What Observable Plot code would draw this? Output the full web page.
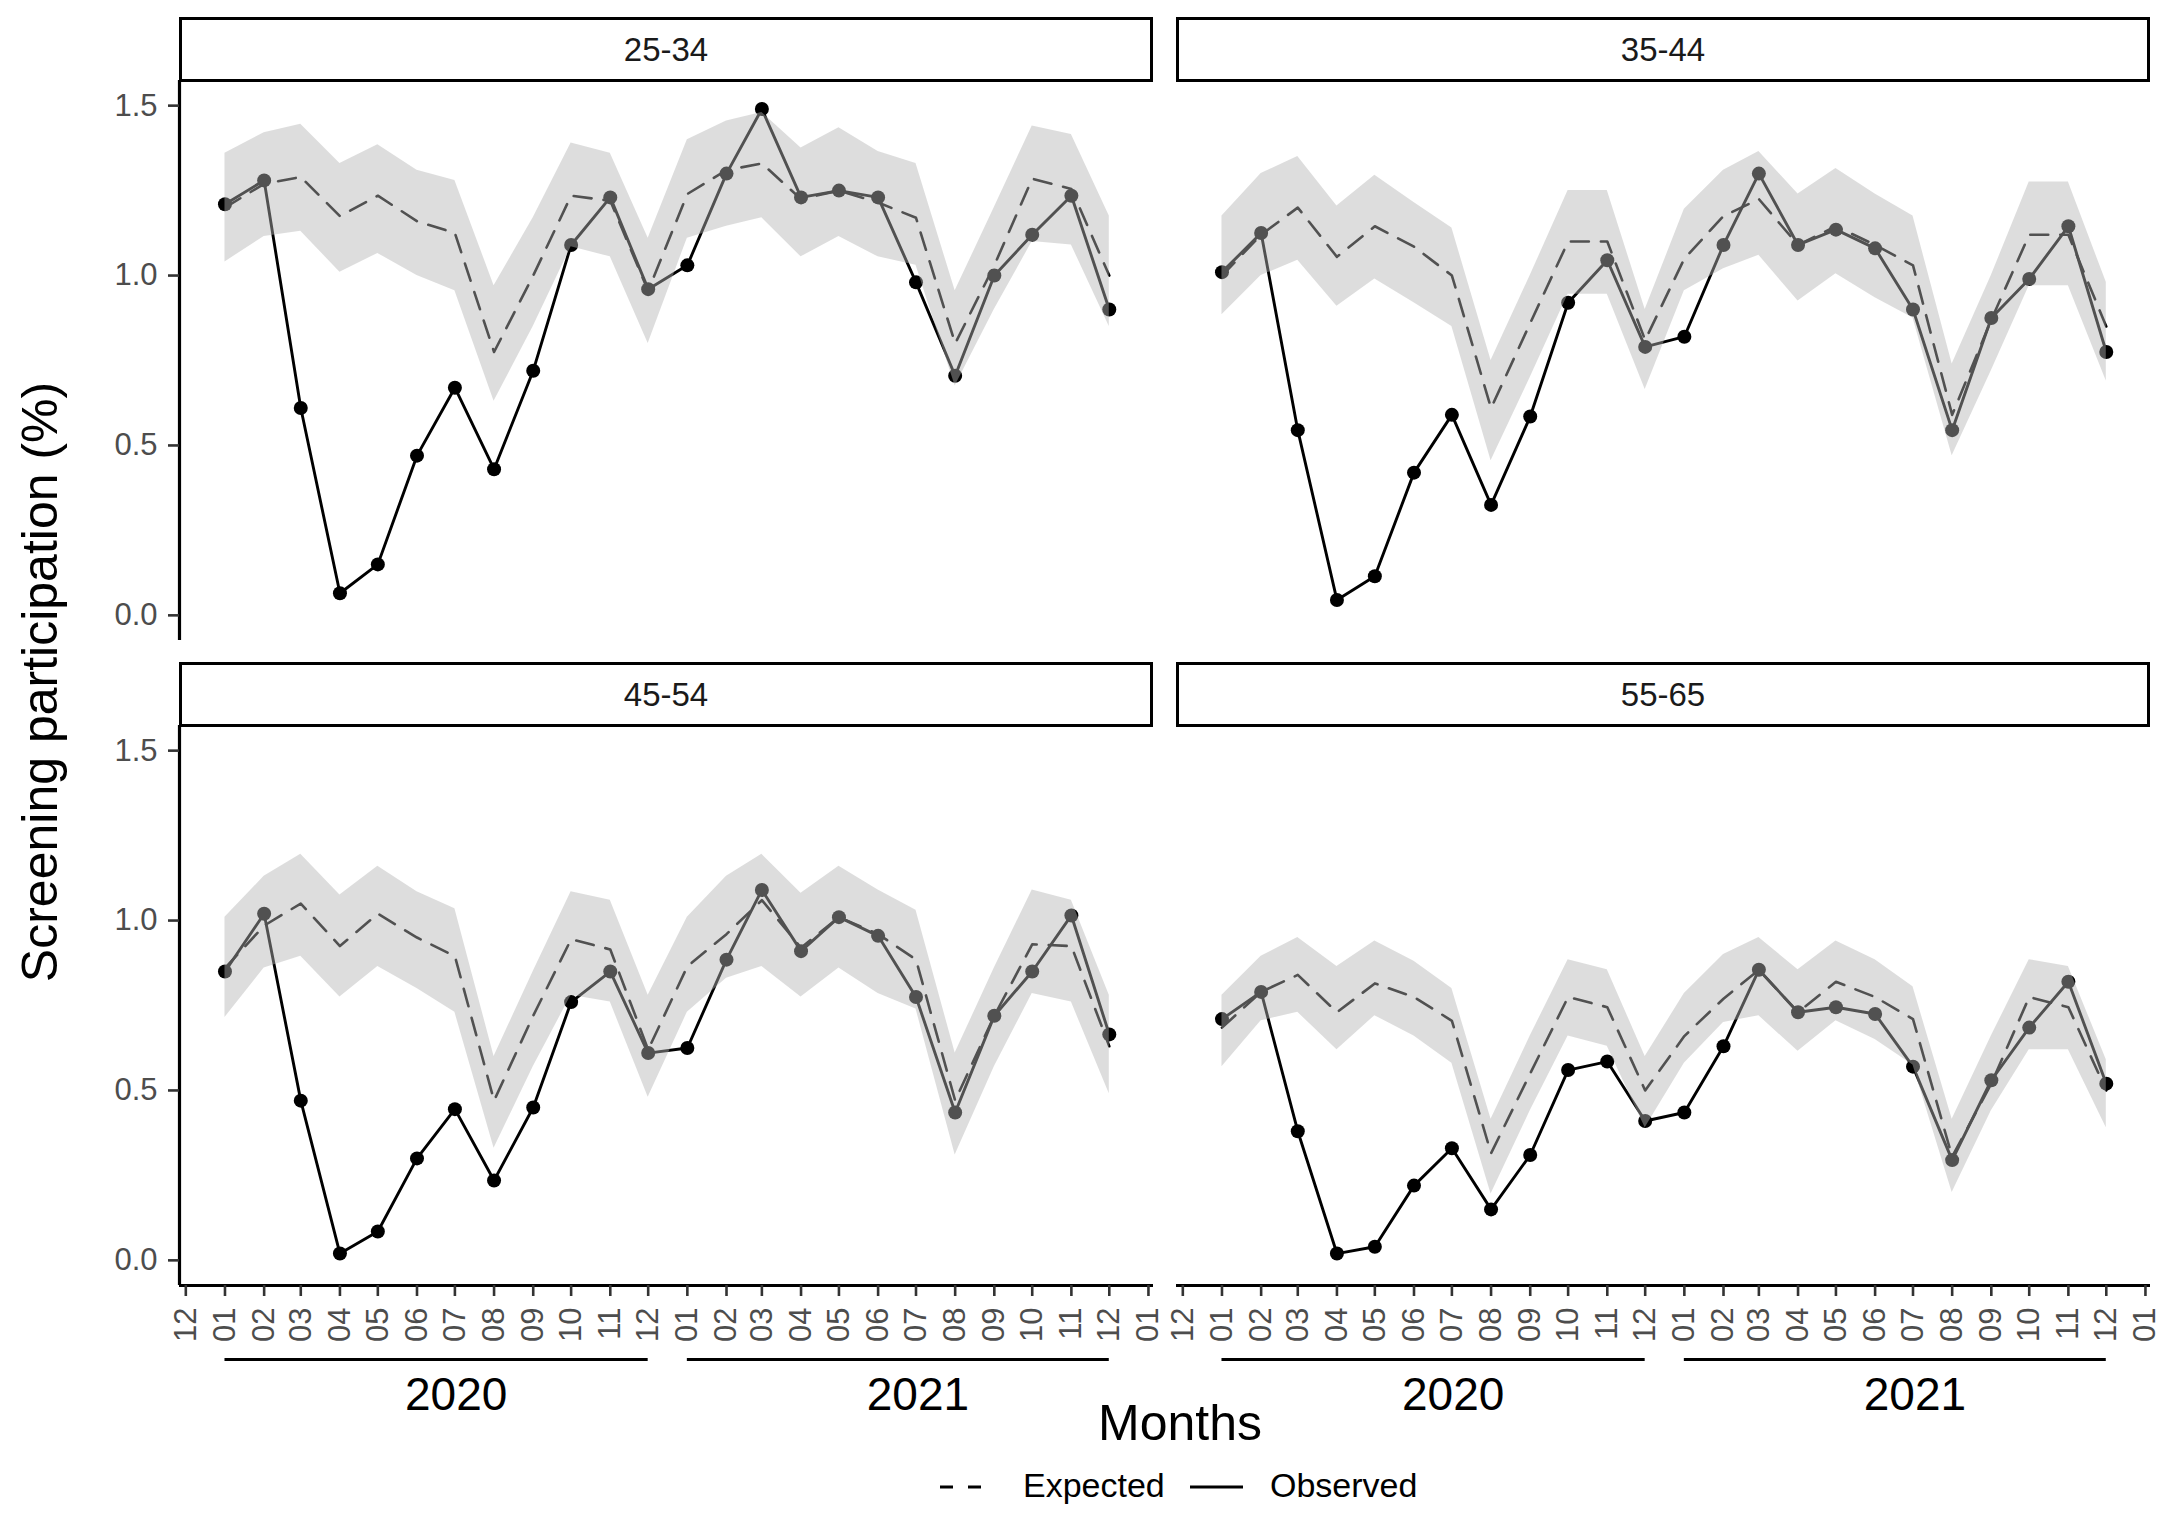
<!DOCTYPE html>
<html><head><meta charset="utf-8">
<script src="https://cdn.jsdelivr.net/npm/d3@7"></script>
<script src="https://cdn.jsdelivr.net/npm/@observablehq/plot@0.6"></script>
<style>
html,body{margin:0;padding:0;background:#fff;}
#chart{position:relative;width:2165px;height:1521px;background:#fff;font-family:"Liberation Sans",Arial,sans-serif;overflow:hidden;}
.strip{position:absolute;box-sizing:border-box;border:3px solid #000;background:#fff;display:flex;align-items:center;justify-content:center;font-size:33px;color:#1a1a1a;}
.abs{position:absolute;white-space:nowrap;line-height:1;}
#chart svg.panel{position:absolute;}
</style></head><body><div id="chart"></div>
<script>
// ---- data ----
const months = ["2020-01","2020-02","2020-03","2020-04","2020-05","2020-06","2020-07","2020-08","2020-09","2020-10","2020-11","2020-12",
                "2021-01","2021-02","2021-03","2021-04","2021-05","2021-06","2021-07","2021-08","2021-09","2021-10","2021-11","2021-12"];
const tickMonths = ["2019-12","2020-01","2020-02","2020-03","2020-04","2020-05","2020-06","2020-07","2020-08","2020-09","2020-10","2020-11","2020-12",
                    "2021-01","2021-02","2021-03","2021-04","2021-05","2021-06","2021-07","2021-08","2021-09","2021-10","2021-11","2021-12","2022-01"];
const yTicks = [0, 0.5, 1.0, 1.5];
const years = ["2020", "2021"];
const ageGroups = ["25-34", "35-44", "45-54", "55-65"];

const observed_25_34 = [1.21,1.28,0.61,0.065,0.15,0.47,0.67,0.43,0.72,1.09,1.23,0.96,1.03,1.30,1.49,1.23,1.25,1.23,0.98,0.705,1.00,1.12,1.235,0.90];
const expected_25_34 = [1.20,1.27,1.29,1.175,1.235,1.16,1.125,0.775,1.00,1.235,1.22,0.955,1.24,1.31,1.33,1.225,1.25,1.215,1.17,0.80,1.03,1.285,1.255,1.00];
const upper_25_34    = [1.36,1.42,1.445,1.33,1.385,1.31,1.28,0.97,1.17,1.39,1.36,1.11,1.40,1.455,1.48,1.375,1.435,1.365,1.33,0.955,1.20,1.44,1.415,1.175];
const lower_25_34    = [1.04,1.115,1.13,1.01,1.065,1.00,0.955,0.63,0.85,1.085,1.055,0.80,1.11,1.145,1.17,1.055,1.115,1.055,1.03,0.675,0.90,1.10,1.09,0.85];

const observed_35_44 = [1.01,1.125,0.545,0.045,0.115,0.42,0.59,0.325,0.585,0.92,1.045,0.79,0.82,1.09,1.30,1.09,1.135,1.08,0.90,0.545,0.875,0.99,1.145,0.775];
const expected_35_44 = [1.00,1.12,1.20,1.055,1.145,1.085,1.00,0.61,0.86,1.10,1.10,0.81,1.05,1.175,1.225,1.09,1.145,1.09,1.03,0.59,0.87,1.12,1.12,0.85];
const upper_35_44    = [1.175,1.30,1.35,1.205,1.295,1.215,1.14,0.75,1.00,1.25,1.25,0.90,1.195,1.31,1.365,1.24,1.315,1.24,1.175,0.74,1.00,1.275,1.275,0.98];
const lower_35_44    = [0.885,1.00,1.045,0.91,0.99,0.92,0.85,0.455,0.70,0.945,0.945,0.665,0.955,1.02,1.06,0.925,1.005,0.935,0.875,0.47,0.72,0.97,0.97,0.69];

const observed_45_54 = [0.85,1.02,0.47,0.02,0.085,0.30,0.445,0.235,0.45,0.76,0.85,0.61,0.625,0.885,1.09,0.91,1.01,0.955,0.775,0.435,0.72,0.85,1.015,0.665];
const expected_45_54 = [0.86,0.985,1.05,0.925,1.02,0.95,0.895,0.47,0.72,0.945,0.915,0.62,0.865,0.96,1.06,0.92,1.01,0.96,0.885,0.47,0.72,0.93,0.925,0.63];
const upper_45_54    = [1.01,1.13,1.195,1.075,1.16,1.085,1.035,0.60,0.85,1.085,1.06,0.78,1.01,1.13,1.195,1.08,1.16,1.09,1.03,0.61,0.86,1.09,1.06,0.78];
const lower_45_54    = [0.715,0.86,0.895,0.775,0.865,0.80,0.73,0.33,0.57,0.78,0.76,0.48,0.73,0.83,0.865,0.775,0.86,0.785,0.74,0.31,0.57,0.785,0.76,0.49];

const observed_55_65 = [0.71,0.79,0.38,0.02,0.04,0.22,0.33,0.15,0.31,0.56,0.585,0.41,0.435,0.63,0.855,0.73,0.745,0.725,0.57,0.295,0.53,0.685,0.82,0.52];
const expected_55_65 = [0.685,0.79,0.84,0.73,0.815,0.775,0.705,0.315,0.55,0.775,0.745,0.50,0.66,0.77,0.855,0.73,0.82,0.775,0.71,0.305,0.52,0.775,0.745,0.50];
const upper_55_65    = [0.78,0.895,0.95,0.865,0.94,0.88,0.80,0.415,0.66,0.885,0.855,0.60,0.785,0.90,0.95,0.855,0.94,0.885,0.805,0.415,0.66,0.885,0.865,0.59];
const lower_55_65    = [0.57,0.705,0.73,0.62,0.72,0.66,0.58,0.195,0.44,0.66,0.63,0.39,0.58,0.70,0.72,0.615,0.705,0.65,0.575,0.20,0.44,0.62,0.62,0.39];

const series = {
  "25-34": {obs: observed_25_34, exp: expected_25_34, hi: upper_25_34, lo: lower_25_34},
  "35-44": {obs: observed_35_44, exp: expected_35_44, hi: upper_35_44, lo: lower_35_44},
  "45-54": {obs: observed_45_54, exp: expected_45_54, hi: upper_45_54, lo: lower_45_54},
  "55-65": {obs: observed_55_65, exp: expected_55_65, hi: upper_55_65, lo: lower_55_65}
};

// ---- layout ----
const parse = d3.utcParse("%Y-%m");
const X_DOMAIN = [new Date(Date.UTC(2019, 10, 26)), new Date(Date.UTC(2022, 0, 5))];
const Y_DOMAIN = [-0.074, 1.574];
const PW = 974, PH = 560;
const chart = document.getElementById("chart");
const FONT = "'Liberation Sans', Arial, sans-serif";

const yearRows = years.map(y => {
  const start = parse(y + "-01"), end = parse(y + "-12"), next = parse((+y + 1) + "-01");
  return {label: y, start, end, mid: new Date((+start + +next) / 2)};
});

function panel(key, {left, top, showY, showX}) {
  const s = series[key];
  const rows = months.map((m, i) => ({date: parse(m), obs: s.obs[i], exp: s.exp[i], hi: s.hi[i], lo: s.lo[i]}));
  const ml = showY ? 179 : 4, mt = 4, mr = 6, mb = showX ? 175 : 4;
  const marks = [
    Plot.line(rows, {x: "date", y: "exp", stroke: "#000", strokeWidth: 2.6, strokeDasharray: "18,12"}),
    Plot.line(rows, {x: "date", y: "obs", stroke: "#000", strokeWidth: 2.9}),
    Plot.dot(rows, {x: "date", y: "obs", r: 7, fill: "#000", stroke: "none"}),
    Plot.areaY(rows, {x: "date", y1: "lo", y2: "hi", fill: "#b3b3b3", fillOpacity: 0.45})
  ];
  if (showY) {
    marks.push(Plot.ruleX([X_DOMAIN[0]], {stroke: "#000", strokeWidth: 3.2}));
    marks.push(Plot.axisY({ticks: yTicks, tickFormat: d3.format(".1f"), tickSize: 11, tickPadding: 11,
      fontSize: 31, fill: "#4d4d4d", stroke: "#333", strokeWidth: 2.6, label: null}));
  }
  if (showX) {
    marks.push(Plot.ruleY([Y_DOMAIN[0]], {stroke: "#000", strokeWidth: 3.2}));
    marks.push(Plot.axisX({ticks: tickMonths.map(parse), tickFormat: d3.utcFormat("%m"), tickRotate: -90,
      tickSize: 11, tickPadding: 11, fontSize: 31, fill: "#4d4d4d", stroke: "#333", strokeWidth: 2.6, label: null}));
    marks.push(Plot.ruleY(yearRows, {x1: "start", x2: "end", y: () => Y_DOMAIN[0], dy: 74, stroke: "#000", strokeWidth: 2.8}));
    marks.push(Plot.text(yearRows, {x: "mid", y: () => Y_DOMAIN[0], text: "label", dy: 110, fontSize: 46, fill: "#000", lineAnchor: "middle"}));
  }
  const svg = Plot.plot({
    width: ml + PW + mr, height: mt + PH + mb,
    marginLeft: ml, marginRight: mr, marginTop: mt, marginBottom: mb,
    x: Object.assign({type: "utc", domain: X_DOMAIN}, showX ? {} : {axis: null}),
    y: Object.assign({domain: Y_DOMAIN}, showY ? {} : {axis: null}),
    style: {background: "transparent", overflow: "visible", fontFamily: FONT, maxWidth: "none"},
    marks
  });
  svg.classList.add("panel");
  svg.style.left = (left - ml) + "px";
  svg.style.top = (top - mt) + "px";
  chart.appendChild(svg);

  const strip = document.createElement("div");
  strip.className = "strip";
  strip.textContent = key;
  Object.assign(strip.style, {left: (left) + "px", top: (top - 63) + "px", width: PW + "px", height: "65px"});
  chart.appendChild(strip);
}

panel(ageGroups[0], {left: 179, top: 80, showY: true, showX: false});
panel(ageGroups[1], {left: 1176, top: 80, showY: false, showX: false});
panel(ageGroups[2], {left: 179, top: 725, showY: true, showX: true});
panel(ageGroups[3], {left: 1176, top: 725, showY: false, showX: true});

// axis titles
const yt = document.createElement("div");
yt.className = "abs";
yt.textContent = "Screening participation (%)";
Object.assign(yt.style, {left: "40px", top: "682px", fontSize: "50px", color: "#000", transform: "translate(-50%,-50%) rotate(-90deg)"});
chart.appendChild(yt);

const xt = document.createElement("div");
xt.className = "abs";
xt.textContent = "Months";
Object.assign(xt.style, {left: "1180px", top: "1398px", fontSize: "50px", color: "#000", transform: "translateX(-50%)"});
chart.appendChild(xt);

// legend
const legendItems = [{label: "Expected", dash: "13,15", keyLeft: 940, keyW: 42, textLeft: 1023},
                     {label: "Observed", dash: null, keyLeft: 1190, keyW: 53, textLeft: 1270}];
legendItems.forEach(it => {
  const k = document.createElementNS("http://www.w3.org/2000/svg", "svg");
  k.setAttribute("width", it.keyW); k.setAttribute("height", 10);
  k.style.position = "absolute"; k.style.left = it.keyLeft + "px"; k.style.top = "1482px";
  const ln = document.createElementNS("http://www.w3.org/2000/svg", "line");
  ln.setAttribute("x1", 0); ln.setAttribute("x2", it.keyW); ln.setAttribute("y1", 5); ln.setAttribute("y2", 5);
  ln.setAttribute("stroke", "#000"); ln.setAttribute("stroke-width", 3);
  if (it.dash) ln.setAttribute("stroke-dasharray", it.dash);
  k.appendChild(ln); chart.appendChild(k);
  const t = document.createElement("div");
  t.className = "abs"; t.textContent = it.label;
  Object.assign(t.style, {left: it.textLeft + "px", top: "1485px", fontSize: "34px", color: "#000", transform: "translateY(-50%)"});
  chart.appendChild(t);
});
</script></body></html>
